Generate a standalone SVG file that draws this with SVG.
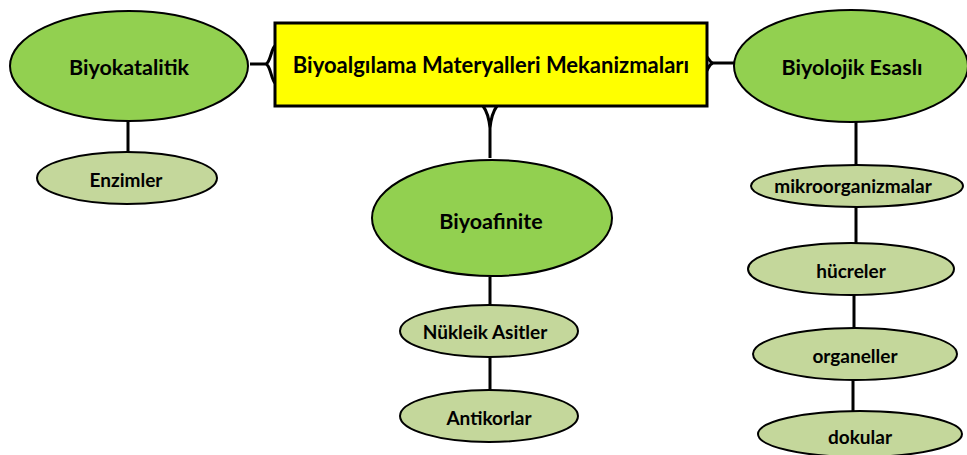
<svg xmlns="http://www.w3.org/2000/svg" width="967" height="455" viewBox="0 0 967 455">
<style>
.main{fill:#92D050;stroke:#000;stroke-width:2}
.sub{fill:#C4D79B;stroke:#000;stroke-width:2}
.root{fill:#FFFF00;stroke:#000;stroke-width:3}
.conn{fill:none;stroke:#000;stroke-width:3}
text{font-family:Lato,"Liberation Sans",sans-serif;font-weight:bold;fill:#000;text-anchor:middle;dominant-baseline:central}
.t1{font-size:22px}
.t2{font-size:21.5px}
.t3{font-size:19px}
</style>
<rect width="967" height="455" fill="#fff"/>
<g id="connectors">
<path class="conn" d="M250,64 L268,64 M276,45 C271,47 271,62 266,64 C271,66 271,81 276,84"/>
<path class="conn" d="M706,56 C709,58 709,62 713,63 C709,64 709,68 706,72 M710,63 L735,63"/>
<path class="conn" d="M483,106 C486,110 489,118 490,128 C491,118 494,110 497,106 M490,120 L490,158"/>
<path class="conn" d="M128,121 L128,152"/>
<path class="conn" d="M490,277 L490,305 M490,357 L490,390"/>
<path class="conn" d="M856,122 L856,165 M856,207 L856,243 M854,295 L854,328 M853,380 L853,411"/>
</g>
<g id="root"><rect class="root" x="275" y="23" width="432" height="83"/><text class="t1" x="491" y="64">Biyoalgılama Materyalleri Mekanizmaları</text></g>
<g id="biyokatalitik"><ellipse class="main" cx="129" cy="66" rx="119" ry="55"/><text class="t2" x="129" y="67">Biyokatalitik</text></g>
<g id="enzimler"><ellipse class="sub" cx="127" cy="178" rx="90" ry="26"/><text class="t3" x="126" y="179">Enzimler</text></g>
<g id="biyolojik"><ellipse class="main" cx="851" cy="66" rx="117" ry="56"/><text class="t2" x="852" y="67">Biyolojik Esaslı</text></g>
<g id="mikro"><ellipse class="sub" cx="857" cy="186" rx="106" ry="21"/><text class="t3" x="853" y="185">mikroorganizmalar</text></g>
<g id="hucreler"><ellipse class="sub" cx="851" cy="269" rx="103" ry="26"/><text class="t3" x="851" y="270">hücreler</text></g>
<g id="organeller"><ellipse class="sub" cx="855" cy="354" rx="102" ry="26"/><text class="t3" x="855" y="355">organeller</text></g>
<g id="dokular"><ellipse class="sub" cx="860" cy="434" rx="102" ry="23"/><text class="t3" x="860" y="436">dokular</text></g>
<g id="biyoafinite"><ellipse class="main" cx="492" cy="218" rx="120" ry="58"/><text class="t2" x="491" y="221">Biyoafinite</text></g>
<g id="nukleik"><ellipse class="sub" cx="489" cy="331" rx="89" ry="26"/><text class="t3" x="485" y="331">Nükleik Asitler</text></g>
<g id="antikorlar"><ellipse class="sub" cx="489" cy="416" rx="89" ry="26"/><text class="t3" x="489" y="417">Antikorlar</text></g>
</svg>
